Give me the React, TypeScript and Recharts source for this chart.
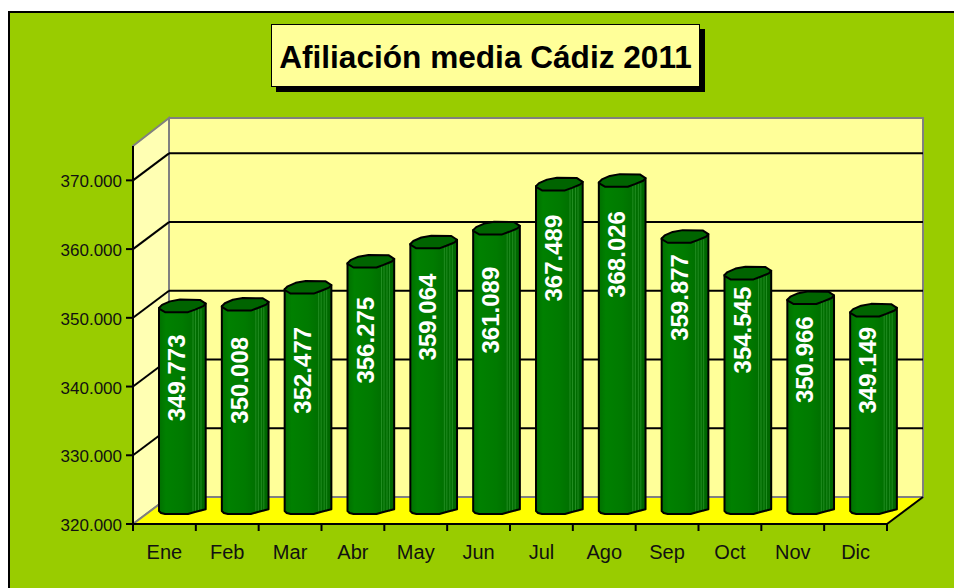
import { BarChart, Bar, XAxis, YAxis, CartesianGrid } from 'recharts';

const months = ['Ene', 'Feb', 'Mar', 'Abr', 'May', 'Jun', 'Jul', 'Ago', 'Sep', 'Oct', 'Nov', 'Dic'];
const afiliacion = [349773, 350008, 352477, 356275, 359064, 361089, 367489, 368026, 359877, 354545, 350966, 349149];
const yTicks = [320000, 330000, 340000, 350000, 360000, 370000];

const data = months.map((mes, i) => ({ mes, afiliacion: afiliacion[i] }));

// layout of the fake 3D box, in pixels
const W = 954;
const H = 588;
const LEFT = 133;
const RIGHT = 887;
const TOP = 146;
const BOTTOM = 524;
const DEPTH_X = 36;
const DEPTH_Y = 27;
const BAR_W = 47;
const FONT = '"Liberation Sans", Arial, sans-serif';

// how far below the top of its bar each value label is centred
const labelDrop = [72, 76, 83, 79, 75, 82, 74, 74, 61, 57, 62, 60];

function formatMiles(v: number): string {
  return String(v).replace(/\B(?=(\d{3})+$)/g, '.');
}

function pts(list: number[][], ox: number, oy: number): string {
  return list.map(([a, b]) => `${ox + a},${oy + b}`).join(' ');
}

const capOutline = [
  [0, 2], [3, -1], [11, -4.5], [21, -6.3], [41, -6], [46.7, -2.3], [44.3, 0.3],
  [36, 3.7], [29, 6.3], [6, 6.3], [0, 2.7],
];
const footOutline = [[46.7, -1.2], [36, 1.5], [29, 3.5], [6, 3.5], [2, 2.5], [0, 0.5]];
const facets = [34, 36.5, 39.5, 42];

function Cylinder(props: any) {
  const { x, y, height, index, payload } = props;
  const left = x + DEPTH_X / 2;
  const top = y - DEPTH_Y / 2;
  const foot = y + height - DEPTH_Y / 2;
  const body = `${left},${top + 2} ${left + 46.7},${top - 2.3} ${pts(footOutline, left, foot)}`;
  const cx = left + 17.5;
  const cy = top + labelDrop[index];
  return (
    <g>
      <polygon points={body} fill="url(#cylinderFill)" stroke="none" />
      {facets.map((f) => (
        <line key={f} x1={left + f} x2={left + f} y1={top + 3} y2={foot + 1} stroke="#2f9a2f" strokeWidth={0.7} />
      ))}
      <polygon points={body} fill="none" stroke="#000" strokeWidth={2} strokeLinejoin="round" />
      <polygon points={pts(capOutline, left, top)} fill="#006400" stroke="#000" strokeWidth={2} strokeLinejoin="round" />
      <text
        x={cx}
        y={cy}
        dy="0.36em"
        transform={`rotate(-90 ${cx} ${cy})`}
        textAnchor="middle"
        fontFamily={FONT}
        fontWeight="bold"
        fontSize={24}
        fill="#fff"
      >
        {formatMiles(payload.afiliacion)}
      </text>
    </g>
  );
}

function gridLine(props: any) {
  const { x1, x2, y1, key } = props;
  // the floor and the top edge of the walls are not grid lines
  if (y1 >= BOTTOM - 1 || y1 <= TOP + 1) return <g key={key} />;
  const back = y1 - DEPTH_Y;
  return (
    <g key={key}>
      <line x1={x1} y1={y1} x2={x1 + DEPTH_X} y2={back} stroke="#000" strokeWidth={2} />
      <line x1={x1 + DEPTH_X} y1={back} x2={x2 + DEPTH_X} y2={back} stroke="#000" strokeWidth={2} />
    </g>
  );
}

function MonthTick(props: any) {
  const { x, y, payload, index } = props;
  const band = (RIGHT - LEFT) / months.length;
  const edge = x - band / 2;
  return (
    <g>
      <line x1={edge} x2={edge} y1={BOTTOM} y2={BOTTOM + 7} stroke="#000" strokeWidth={2} />
      {index === months.length - 1 && (
        <line x1={edge + band} x2={edge + band} y1={BOTTOM} y2={BOTTOM + 7} stroke="#000" strokeWidth={2} />
      )}
      <text x={x} y={y + 27} textAnchor="middle" fontFamily={FONT} fontSize={20} fill="#111">
        {payload.value}
      </text>
    </g>
  );
}

function ValueTick(props: any) {
  const { x, y, payload } = props;
  return (
    <text x={x} y={y + 7} textAnchor="end" fontFamily={FONT} fontSize={17} fill="#111">
      {formatMiles(payload.value)}
    </text>
  );
}

function Box3D() {
  const bx = LEFT + DEPTH_X;
  const bxr = RIGHT + DEPTH_X;
  const by = BOTTOM - DEPTH_Y;
  const ty = TOP - DEPTH_Y - 1;
  return (
    <svg width={W} height={H} style={{ position: 'absolute', left: 0, top: 0 }}>
      <rect x={bx} y={ty} width={bxr - bx} height={by - ty} fill="#ffff99" stroke="#808080" strokeWidth={2} />
      <polygon points={`${LEFT},${TOP} ${bx},${ty} ${bx},${by} ${LEFT},${BOTTOM}`} fill="#ffffb3" stroke="#808080" strokeWidth={2} />
      <polygon points={`${LEFT},${BOTTOM} ${bx},${by} ${bxr},${by} ${RIGHT},${BOTTOM}`} fill="#ffff00" />
      <line x1={LEFT} y1={BOTTOM} x2={bx} y2={by} stroke="#808080" strokeWidth={2} />
      <line x1={bx} y1={by} x2={bxr} y2={by} stroke="#808080" strokeWidth={2} />
      <line x1={RIGHT} y1={BOTTOM} x2={bxr} y2={by} stroke="#000" strokeWidth={2} />
    </svg>
  );
}

export default function App() {
  return (
    <div style={{ position: 'fixed', left: 0, top: 0, width: W, height: H, background: '#fff', overflow: 'hidden' }}>
      <div
        style={{
          position: 'absolute',
          left: 8,
          top: 11,
          width: W - 8,
          height: H - 11,
          boxSizing: 'border-box',
          background: '#99cc00',
          borderLeft: '2px solid #000',
          borderTop: '2px solid #000',
        }}
      />
      <Box3D />
      <div
        style={{
          position: 'absolute',
          left: 271,
          top: 24,
          width: 429,
          height: 63,
          boxSizing: 'border-box',
          background: '#ffff99',
          border: '1.5px solid #000',
          boxShadow: '5px 5px 0 #000',
          fontFamily: FONT,
          fontWeight: 'bold',
          fontSize: 31.6,
          lineHeight: '65px',
          textAlign: 'center',
          color: '#000',
          whiteSpace: 'nowrap',
        }}
      >
        Afiliación media Cádiz 2011
      </div>
      <div style={{ position: 'absolute', left: 0, top: 0 }}>
        <BarChart
          width={W}
          height={H}
          data={data}
          margin={{ left: LEFT - 70, right: W - RIGHT, top: TOP, bottom: H - BOTTOM - 40 }}
        >
          <defs>
            <linearGradient id="cylinderFill" x1="0" y1="0" x2="1" y2="0">
              <stop offset="0" stopColor="#007000" />
              <stop offset="0.15" stopColor="#008000" />
              <stop offset="0.5" stopColor="#007a00" />
              <stop offset="0.72" stopColor="#007000" />
              <stop offset="1" stopColor="#006600" />
            </linearGradient>
          </defs>
          <CartesianGrid vertical={false} horizontal={gridLine} />
          <XAxis
            dataKey="mes"
            height={40}
            interval={0}
            tickLine={false}
            axisLine={{ stroke: '#000', strokeWidth: 2 }}
            tick={MonthTick}
          />
          <YAxis
            width={70}
            domain={[320000, 375000]}
            ticks={yTicks}
            interval={0}
            tickSize={7}
            tickMargin={4}
            tickLine={{ stroke: '#000', strokeWidth: 2 }}
            axisLine={{ stroke: '#000', strokeWidth: 2 }}
            tick={ValueTick}
          />
          <Bar dataKey="afiliacion" barSize={BAR_W} shape={Cylinder} isAnimationActive={false} />
        </BarChart>
      </div>
    </div>
  );
}
